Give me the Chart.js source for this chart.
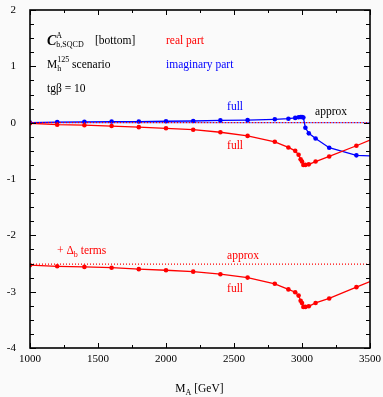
<!DOCTYPE html>
<html>
<head>
<meta charset="utf-8">
<script src="https://cdn.jsdelivr.net/npm/chart.js@4.4.1/dist/chart.umd.min.js"></script>
<style>
  html, body { margin: 0; padding: 0; background: #fafafa; }
  #wrap { width: 383px; height: 397px; }
</style>
</head>
<body>
<div id="wrap"><canvas id="chart"></canvas></div>
<script>
// M_A values (GeV) where the full results were computed
const massA = [1000, 1200, 1400, 1600, 1800, 2000, 2200, 2400, 2600, 2800, 2900, 2950, 2975, 2990, 3000, 3010, 3025, 3050, 3100, 3200, 3400, 3500];

// full result, imaginary part (blue)
const imagFull = [0.0, 0.01, 0.015, 0.02, 0.02, 0.025, 0.03, 0.04, 0.045, 0.06, 0.07, 0.085, 0.095, 0.10, 0.10, 0.09, -0.09, -0.19, -0.28, -0.445, -0.58, -0.59];

// full result, real part (red)
const realFull = [-0.01, -0.035, -0.045, -0.06, -0.08, -0.10, -0.125, -0.17, -0.235, -0.34, -0.44, -0.50, -0.57, -0.65, -0.69, -0.75, -0.75, -0.74, -0.69, -0.60, -0.41, -0.31];

// full result, real part with Delta_b terms (red)
const realFullDb = [-2.53, -2.55, -2.56, -2.575, -2.60, -2.62, -2.645, -2.69, -2.75, -2.86, -2.96, -3.01, -3.07, -3.16, -3.20, -3.27, -3.27, -3.26, -3.20, -3.12, -2.92, -2.82];

// approximations (constant in M_A)
const approxRange = [1000, 3500];
const approxPlain = [0, 0];
const approxDb = [-2.51, -2.51];

const xTicks = [1000, 1500, 2000, 2500, 3000, 3500];
const yTicks = [-4, -3, -2, -1, 0, 1, 2];

const RED = 'rgb(255, 0, 0)';
const BLUE = 'rgb(0, 0, 255)';
const FONT = '"Liberation Serif", "Times New Roman", serif';

function pts(xs, ys) {
    return xs.map((x, i) => ({ x: x, y: ys[i] }));
}

function fullLine(ys, color) {
    return {
        data: pts(massA, ys),
        borderColor: color,
        backgroundColor: color,
        borderWidth: 1.3,
        pointRadius: ctx => (ctx.raw && ctx.raw.x >= 3500 ? 0 : 2.3),
        pointBorderWidth: 0,
        pointBackgroundColor: color,
        tension: 0
    };
}

function approxLine(ys, color, offset) {
    return {
        data: pts(approxRange, ys),
        borderColor: color,
        borderWidth: 1.2,
        borderDash: [1, 2],
        borderDashOffset: offset,
        pointRadius: 0
    };
}

// draws text with optional sub/superscripts, parts laid out left to right
function rich(ctx, x, y, parts, color) {
    ctx.save();
    ctx.fillStyle = color;
    ctx.textBaseline = 'middle';
    ctx.textAlign = 'left';
    let cx = x;
    for (const p of parts) {
        const size = p.size || 11.5;
        const style = (p.italic ? 'italic ' : '') + (p.bold ? 'bold ' : '');
        if (p.sup !== undefined || p.sub !== undefined) {
            ctx.font = style + '8px ' + FONT;
            let w = 0;
            if (p.sup) { ctx.fillText(p.sup, cx, y - 5); w = Math.max(w, ctx.measureText(p.sup).width); }
            if (p.sub) { ctx.fillText(p.sub, cx, y + 4); w = Math.max(w, ctx.measureText(p.sub).width); }
            cx += w;
        } else {
            ctx.font = style + size + 'px ' + FONT;
            ctx.fillText(p.t, cx, y);
            cx += ctx.measureText(p.t).width;
        }
    }
    ctx.restore();
}

const framePlugin = {
    id: 'frame',
    beforeDraw(chart) {
        const ctx = chart.ctx;
        ctx.save();
        ctx.fillStyle = '#fafafa';
        ctx.fillRect(0, 0, chart.width, chart.height);
        ctx.restore();
    },
    afterDraw(chart) {
        const ctx = chart.ctx;
        const a = chart.chartArea;
        const xs = chart.scales.x, ys = chart.scales.y;
        ctx.save();
        ctx.strokeStyle = '#000';
        ctx.lineWidth = 1;
        // minor + major ticks pointing inward
        ctx.beginPath();
        for (let v = 1000; v <= 3500; v += 250) {
            const px = Math.round(xs.getPixelForValue(v)) + 0.5;
            const len = v % 500 === 0 ? 5 : 3;
            ctx.moveTo(px, a.bottom); ctx.lineTo(px, a.bottom - len);
            ctx.moveTo(px, a.top); ctx.lineTo(px, a.top + len);
        }
        for (let v = -4; v <= 2; v += 0.25) {
            const py = Math.round(ys.getPixelForValue(v)) + 0.5;
            const len = Number.isInteger(v) ? 6 : 4;
            ctx.moveTo(a.left, py); ctx.lineTo(a.left + len, py);
            ctx.moveTo(a.right, py); ctx.lineTo(a.right - len, py);
        }
        ctx.stroke();
        ctx.lineWidth = 1.6;
        ctx.strokeRect(a.left, a.top, a.right - a.left, a.bottom - a.top);
        ctx.restore();

        const X = v => xs.getPixelForValue(v);
        const Y = v => ys.getPixelForValue(v);
        rich(ctx, X(1125), Y(1.45), [
            { t: 'C', bold: true, italic: true, size: 14 },
            { sup: 'A', sub: 'b,SQCD' }
        ], '#000');
        rich(ctx, X(1478), Y(1.45), [{ t: '[bottom]' }], '#000');
        rich(ctx, X(2000), Y(1.45), [{ t: 'real part' }], RED);
        rich(ctx, X(1125), Y(1.02), [
            { t: 'M' }, { sup: '125', sub: 'h' }, { t: ' scenario' }
        ], '#000');
        rich(ctx, X(2000), Y(1.02), [{ t: 'imaginary part' }], BLUE);
        rich(ctx, X(1125), Y(0.6), [{ t: 'tgβ = 10' }], '#000');
        rich(ctx, X(2449), Y(0.28), [{ t: 'full' }], BLUE);
        rich(ctx, X(3096), Y(0.19), [{ t: 'approx' }], '#000');
        rich(ctx, X(2449), Y(-0.42), [{ t: 'full' }], RED);
        rich(ctx, X(1199), Y(-2.27), [
            { t: '+ Δ' }, { sub: 'b' }, { t: ' terms' }
        ], RED);
        rich(ctx, X(2449), Y(-2.36), [{ t: 'approx' }], RED);
        rich(ctx, X(2449), Y(-2.95), [{ t: 'full' }], RED);

        // axis title
        ctx.save();
        ctx.font = '11.5px ' + FONT;
        const mid = (a.left + a.right) / 2;
        const w = ctx.measureText('M').width + 7 + ctx.measureText(' [GeV]').width;
        ctx.restore();
        rich(ctx, mid - w / 2, 389, [{ t: 'M' }, { sub: 'A' }, { t: ' [GeV]' }], '#000');
    }
};

new Chart(document.getElementById('chart'), {
    type: 'line',
    data: {
        datasets: [
            approxLine(approxPlain, RED, 0),
            approxLine(approxPlain, BLUE, 1.5),
            approxLine(approxDb, RED, 0),
            fullLine(realFull, RED),
            fullLine(realFullDb, RED),
            fullLine(imagFull, BLUE)
        ]
    },
    options: {
        responsive: true,
        maintainAspectRatio: false,
        animation: false,
        layout: { padding: { top: 10, right: 13, left: 0, bottom: 0 } },
        plugins: { legend: { display: false }, tooltip: { enabled: false } },
        scales: {
            x: {
                type: 'linear',
                min: 1000,
                max: 3500,
                afterBuildTicks: s => { s.ticks = xTicks.map(v => ({ value: v })); },
                afterFit: s => { s.height = 49; s.paddingLeft = 0; s.paddingRight = 0; },
                grid: { display: false, drawTicks: false },
                border: { display: false },
                ticks: {
                    color: '#000',
                    padding: 5,
                    maxRotation: 0,
                    font: { family: FONT, size: 11 },
                    callback: v => String(v)
                }
            },
            y: {
                min: -4,
                max: 2,
                afterBuildTicks: s => { s.ticks = yTicks.map(v => ({ value: v })); },
                afterFit: s => { s.width = 30; s.paddingTop = 0; s.paddingBottom = 0; },
                grid: { display: false, drawTicks: false },
                border: { display: false },
                ticks: {
                    color: '#000',
                    padding: 14,
                    font: { family: FONT, size: 11 },
                    callback: v => String(v)
                }
            }
        }
    },
    plugins: [framePlugin]
});
</script>
</body>
</html>
